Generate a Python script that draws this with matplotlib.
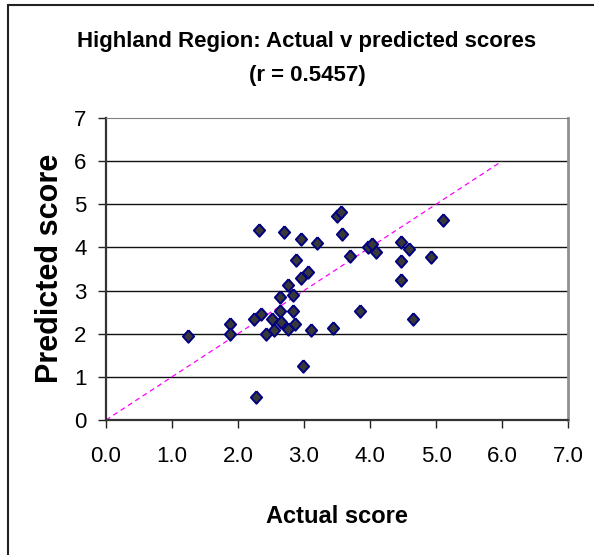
"""Highland Region: actual v predicted scores scatter."""

import matplotlib
matplotlib.use("Agg")
import matplotlib.pyplot as plt
from matplotlib.patches import Rectangle

actual = [2.32, 2.70, 2.95, 3.19, 3.50, 3.56, 3.57, 2.88, 3.06, 2.95,
          2.75, 2.63, 2.83, 2.63, 2.83, 2.35, 2.24, 2.52, 2.65, 2.86,
          2.75, 2.55, 2.42, 3.11, 3.44, 1.88, 1.88, 1.24, 2.98, 2.27,
          3.70, 3.97, 4.03, 4.09, 4.47, 4.59, 4.47, 4.47, 4.93, 5.11,
          3.85, 4.65]
predicted = [4.40, 4.35, 4.20, 4.11, 4.73, 4.83, 4.30, 3.72, 3.43, 3.29,
             3.14, 2.86, 2.90, 2.52, 2.52, 2.46, 2.33, 2.33, 2.27, 2.23,
             2.12, 2.08, 1.99, 2.08, 2.13, 2.23, 1.99, 1.94, 1.25, 0.54,
             3.81, 4.02, 4.08, 3.90, 4.12, 3.97, 3.68, 3.25, 3.77, 4.63,
             2.52, 2.33]
ref_line = [0.0, 6.0]
x_ticks = [0, 1, 2, 3, 4, 5, 6, 7]
y_ticks = [0, 1, 2, 3, 4, 5, 6, 7]

plt.rcParams["font.family"] = ["Liberation Sans", "DejaVu Sans"]

W, H = 594, 555
fig = plt.figure(figsize=(W / 100, H / 100), dpi=100)
ax = fig.add_axes([106 / W, 1 - 420 / H, 462 / W, 302 / H])

# outer chart frame (runs off the right and bottom of the picture)
fig.patches.append(Rectangle((8 / W, -0.1), 1.2, 1.1 - 5 / H, transform=fig.transFigure,
                             fill=False, edgecolor="#222222", linewidth=1.5))

ax.plot(ref_line, ref_line, color="#ff00ff", linewidth=0.9, dashes=(4, 3), zorder=2)
diamond = [(0, 1), (0.9, 0), (0, -1), (-0.9, 0), (0, 1)]
ax.plot(actual, predicted, linestyle="none", marker=diamond, markersize=9,
        markerfacecolor="#383838", markeredgecolor="#000080", markeredgewidth=1.4, zorder=3)

ax.set_xlim(0, 7)
ax.set_ylim(0, 7)
ax.set_xticks(x_ticks)
ax.set_xticklabels([f"{v:.1f}" for v in x_ticks])
ax.set_yticks(y_ticks)
ax.set_yticklabels([str(v) for v in y_ticks])
ax.tick_params(axis="both", direction="out", length=6, width=1, colors="#222222",
               labelsize=16, labelcolor="black")
ax.tick_params(axis="x", pad=13)
ax.tick_params(axis="y", pad=8)

for y in y_ticks[1:-1]:
    ax.axhline(y, color="#111111", linewidth=1, zorder=1)
ax.spines["top"].set_color("#808080")
ax.spines["right"].set_color("#909090")
ax.spines["right"].set_linewidth(2)
ax.spines["left"].set_color("#333333")
ax.spines["left"].set_linewidth(1.6)
ax.spines["bottom"].set_color("#333333")
ax.spines["bottom"].set_linewidth(1.6)

fig.text(307 / W, 1 - 47 / H, "Highland Region: Actual v predicted scores",
         ha="center", va="baseline", fontsize=16, fontweight="bold")
fig.text(307 / W, 1 - 81 / H, "(r = 0.5457)",
         ha="center", va="baseline", fontsize=16, fontweight="bold")
fig.text(50 / W, 1 - 268 / H, "Predicted score", rotation=90,
         ha="center", va="center", fontsize=22, fontweight="bold")
fig.text(337 / W, 1 - 523 / H, "Actual score",
         ha="center", va="baseline", fontsize=17, fontweight="bold")

fig.savefig("out.png", dpi=100)
